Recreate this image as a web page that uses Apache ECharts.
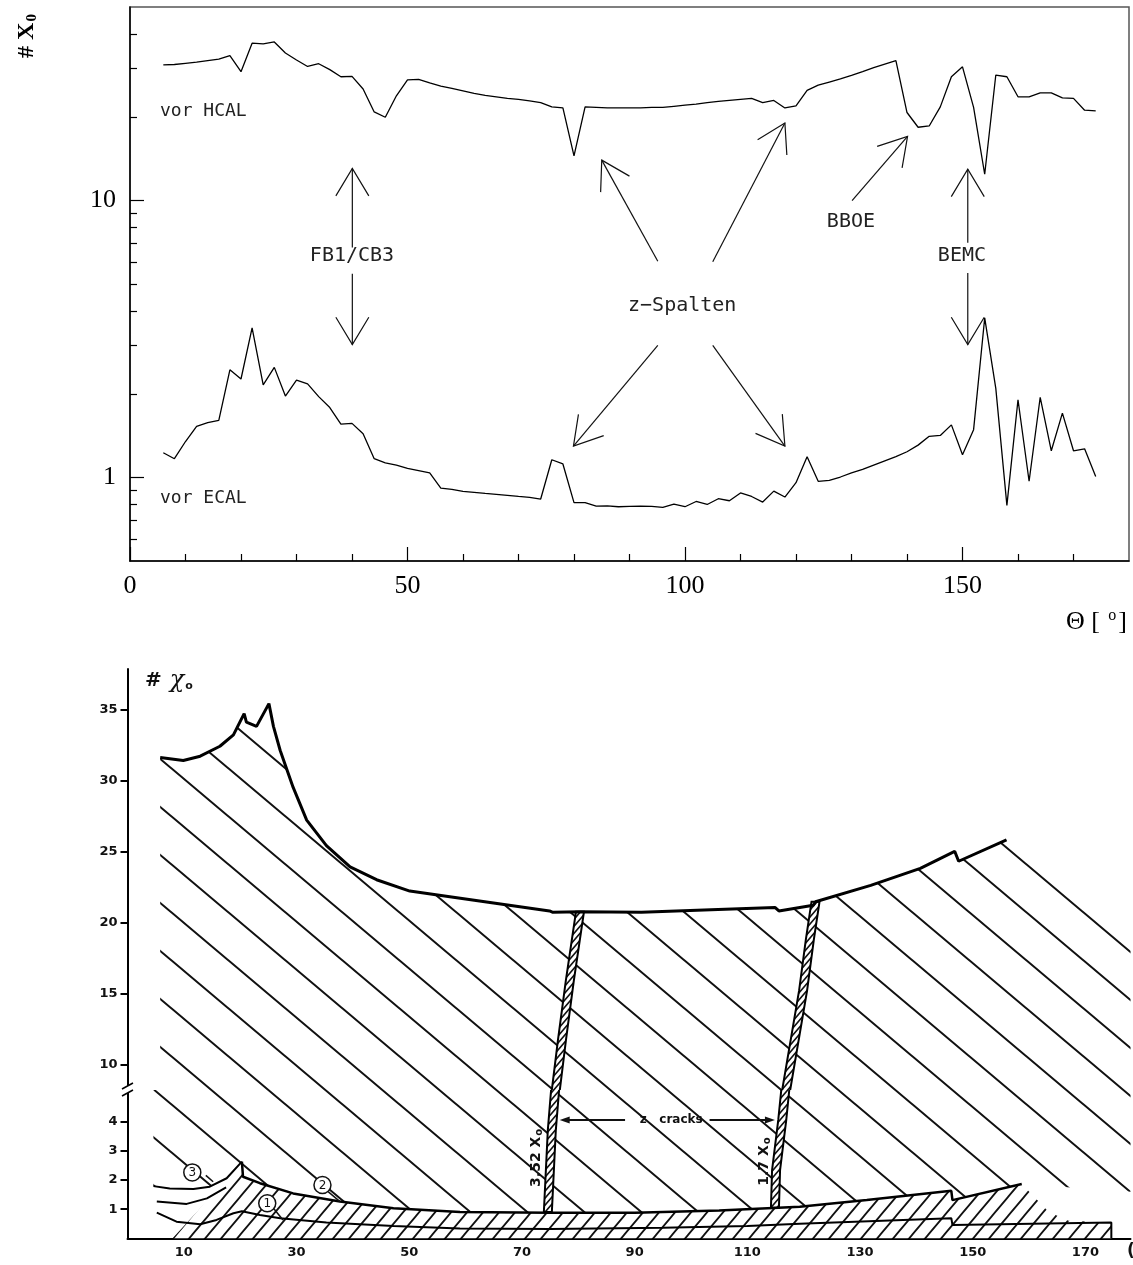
<!DOCTYPE html>
<html>
<head>
<meta charset="utf-8">
<title>Strahlungslaengen vor ECAL / HCAL</title>
<script src="https://cdn.jsdelivr.net/npm/echarts@6.0.0/dist/echarts.min.js"></script>
<style>
  html, body { margin: 0; padding: 0; background: #fff; }
  #main { width: 1133px; height: 1265px; }
</style>
</head>
<body>
<div id="main"></div>
<script>
// ---------- oberes Bild: #X0 vor ECAL / HCAL (log) ----------
const theta = [6, 8, 10, 12, 14, 16, 18, 20, 22, 24, 26, 28, 30, 32, 34, 36, 38, 40, 42, 44,
  46, 48, 50, 52, 54, 56, 58, 60, 62, 64, 66, 68, 70, 72, 74, 76, 78, 80, 82, 84,
  86, 88, 90, 92, 94, 96, 98, 100, 102, 104, 106, 108, 110, 112, 114, 116, 118, 120, 122, 124,
  126, 128, 130, 132, 134, 136, 138, 140, 142, 144, 146, 148, 150, 152, 154, 156, 158, 160, 162, 164,
  166, 168, 170, 172, 174];
const vorHCAL = [30.9, 31.0, 31.3, 31.6, 32.0, 32.4, 33.4, 29.2, 37.0, 36.8, 37.4, 34.1, 32.2, 30.5, 31.2, 29.7, 28.0, 28.1, 25.3, 20.9,
  20.0, 23.9, 27.3, 27.4, 26.6, 25.9, 25.4, 24.9, 24.4, 24.0, 23.7, 23.4, 23.2, 22.9, 22.6, 21.8, 21.6, 14.5, 21.8, 21.7,
  21.6, 21.6, 21.6, 21.6, 21.7, 21.7, 21.9, 22.1, 22.3, 22.6, 22.8, 23.0, 23.2, 23.4, 22.6, 23.0, 21.6, 22.0, 25.0, 26.1,
  26.8, 27.5, 28.3, 29.2, 30.2, 31.1, 32.0, 20.8, 18.4, 18.6, 21.8, 28.0, 30.4, 21.7, 12.45, 28.4, 28.0, 23.7, 23.7, 24.5,
  24.5, 23.5, 23.4, 21.2, 21.1];
const vorECAL = [1.23, 1.17, 1.35, 1.53, 1.58, 1.61, 2.45, 2.27, 3.47, 2.16, 2.50, 1.97, 2.25, 2.18, 1.96, 1.79, 1.56, 1.57, 1.44, 1.17,
  1.13, 1.11, 1.08, 1.06, 1.04, 0.917, 0.907, 0.892, 0.885, 0.877, 0.870, 0.863, 0.855, 0.849, 0.837, 1.16, 1.12, 0.812, 0.812, 0.789,
  0.791, 0.785, 0.787, 0.789, 0.787, 0.781, 0.802, 0.785, 0.820, 0.800, 0.839, 0.825, 0.880, 0.855, 0.816, 0.894, 0.851, 0.959, 1.19, 0.970,
  0.978, 1.005, 1.04, 1.07, 1.11, 1.15, 1.19, 1.24, 1.31, 1.41, 1.42, 1.55, 1.21, 1.49, 3.77, 2.10, 0.794, 1.91, 0.970, 1.95,
  1.25, 1.71, 1.25, 1.27, 1.01];

const thetaMajor = [0, 50, 100, 150];
const thetaMinor = [10, 20, 30, 40, 60, 70, 80, 90, 110, 120, 130, 140, 160, 170];
const x0Major = [1, 10];
const x0Minor = [0.6, 0.7, 0.8, 0.9, 2, 3, 4, 5, 6, 7, 8, 9, 20, 30, 40];

// Beschriftungen im oberen Bild (theta, X0)
const noteText = ['vor HCAL', 'vor ECAL', 'FB1/CB3', 'z\u2212Spalten', 'BBOE', 'BEMC'];
const noteX = [5.4, 5.4, 40.0, 99.5, 129.9, 149.9];
const noteY = [20.97, 0.839, 6.30, 4.17, 8.36, 6.30];

// Pfeile: von (x1,y1) nach Spitze (x2,y2)
const arrowX1 = [40.06, 40.06, 95.1, 105.0, 95.1, 105.0, 130.1, 150.95, 150.95];
const arrowY1 = [6.77, 5.45, 6.04, 6.02, 3.0, 3.0, 10.0, 7.04, 5.48];
const arrowX2 = [40.06, 40.06, 85.0, 118.0, 79.9, 118.0, 140.1, 150.95, 150.95];
const arrowY2 = [13.06, 3.02, 14.0, 19.05, 1.30, 1.30, 17.06, 12.98, 3.02];

// ---------- unteres Bild: Skizze mit gebrochener Achse ----------
const topX = [5.8, 9.9, 12.9, 16.4, 18.8, 20.7, 21.1, 22.9, 25.1, 25.9, 27.1, 29.4, 31.8, 35.3, 39.5, 44.2, 50.1, 57.2, 74.9, 75.5,
  80.3, 91.2, 104.8, 114.9, 115.6, 121.7, 122.1, 131.9, 140.7, 146.8, 147.5, 156.0];
const topV = [31.6, 31.4, 31.7, 32.4, 33.2, 34.7, 34.1, 33.8, 35.4, 33.8, 32.1, 29.5, 27.2, 25.4, 23.9, 23.0, 22.2, 21.8, 20.8, 20.7,
  20.75, 20.7, 20.9, 21.05, 20.8, 21.2, 21.45, 22.6, 23.8, 25.0, 24.3, 25.8];
const hatchEdgeX = [178];
const hatchEdgeV = [20.5];

const curve3X = [4.6, 7.5, 11.7, 14.6, 17.6, 20.3];
const curve3V = [1.79, 1.71, 1.69, 1.77, 2.06, 2.63];
const midLeftX = [5.2, 10.5, 14.1, 17.5];
const midLeftV = [1.26, 1.18, 1.37, 1.75];
const line1X = [5.2, 8.7, 12.9, 15.8, 18.8, 20.3, 23.5, 27.1, 35.3, 47.2, 59, 75, 95, 110, 119.3, 146.2, 146.4, 174.6, 174.6];
const line1V = [0.88, 0.57, 0.48, 0.63, 0.86, 0.93, 0.8, 0.69, 0.54, 0.42, 0.34, 0.32, 0.36, 0.42, 0.5, 0.69, 0.46, 0.54, 0];
const band2X = [8, 20.2, 20.3, 20.5, 23.5, 29.4, 37.7, 47.2, 59, 75, 90, 105, 119.3, 131.2, 146.2, 146.4, 158.7];
const band2V = [0, 2.55, 2.63, 2.11, 1.89, 1.54, 1.26, 1.03, 0.9, 0.88, 0.88, 0.95, 1.08, 1.31, 1.63, 1.31, 1.86];
const bandTailX = [163.5, 167, 174.6, 174.6];
const bandTailV = [0.9, 0.6, 0.54, 0];
const lowEdgeX = [178];
const lowEdgeV = [1.6];

const crack1UpX = [75.8, 77.1, 78.5, 79.8, 80.3];
const crack1UpV = [7.5, 11.7, 15.9, 19.4, 20.75];
const crack1LoX = [74.6, 75.3, 76.1];
const crack1LoV = [0.9, 3.7, 5.6];
const crack2UpX = [116.6, 118.4, 119.9, 121.1, 122.1];
const crack2UpV = [7.5, 11.7, 15.2, 18.8, 21.45];
const crack2LoX = [114.9, 115.1, 116.2, 117.0];
const crack2LoV = [1.05, 2.34, 4.06, 5.6];

const upperTicks = [10, 15, 20, 25, 30, 35];
const lowerTicks = [1, 2, 3, 4];
const bottomXLabels = [10, 30, 50, 70, 90, 110, 130, 150, 170];

const pairs = (xs, ys) => xs.map((x, i) => [x, ys[i]]);

// Schraffur als Kachelmuster
function hatch(w, h, lw, dir, bg) {
  const c = document.createElement('canvas');
  c.width = w; c.height = h;
  const g = c.getContext('2d');
  if (bg) { g.fillStyle = bg; g.fillRect(0, 0, w, h); }
  g.strokeStyle = '#111';
  g.lineWidth = lw;
  g.beginPath();
  for (let k = -1; k <= 1; k++) {
    if (dir === '\\') { g.moveTo(-w, -h + k * h); g.lineTo(2 * w, 2 * h + k * h); }
    else { g.moveTo(-w, 2 * h + k * h); g.lineTo(2 * w, -h + k * h); }
  }
  g.stroke();
  return { image: c, repeat: 'repeat' };
}
const sparseHatch = hatch(57, 48, 2, '\\', null);
const denseHatch = hatch(16, 19, 1.8, '/', '#fff');
const crackHatch = hatch(6, 7, 1.6, '/', '#fff');

function renderArrow(params, api) {
  const p1 = api.coord([api.value(0), api.value(1)]);
  const p2 = api.coord([api.value(2), api.value(3)]);
  const ang = Math.atan2(p1[1] - p2[1], p1[0] - p2[0]);
  const L = 32, a = 31 * Math.PI / 180;
  const w1 = [p2[0] + L * Math.cos(ang + a), p2[1] + L * Math.sin(ang + a)];
  const w2 = [p2[0] + L * Math.cos(ang - a), p2[1] + L * Math.sin(ang - a)];
  return {
    type: 'group', children: [
      { type: 'line', shape: { x1: p1[0], y1: p1[1], x2: p2[0], y2: p2[1] }, style: { stroke: '#111', lineWidth: 1.2 } },
      { type: 'polyline', shape: { points: [w1, p2, w2] }, style: { stroke: '#111', lineWidth: 1.2, fill: null } }
    ]
  };
}

function renderNote(params, api) {
  const p = api.coord([api.value(0), api.value(1)]);
  const i = params.dataIndex;
  const small = i < 2;
  return {
    type: 'text', x: p[0], y: p[1],
    style: {
      text: noteText[i], fill: '#222',
      font: (small ? 18 : 20) + 'px "DejaVu Sans Mono"',
      align: small ? 'left' : 'center', verticalAlign: 'middle'
    }
  };
}

function crackRenderer(sets) {
  return function (params, api) {
    const s = sets[params.dataIndex];
    const pts = s[0].map((x, i) => api.coord([x, s[1][i]]));
    const left = pts.map(p => [p[0] - 4, p[1]]);
    const right = pts.map(p => [p[0] + 4, p[1]]).reverse();
    return {
      type: 'polygon', shape: { points: left.concat(right) },
      style: { fill: crackHatch, stroke: '#000', lineWidth: 2 }
    };
  };
}

function renderCrackArrow(params, api) {
  const p1 = api.coord([api.value(0), api.value(1)]);
  const p2 = api.coord([api.value(2), api.value(3)]);
  const d = p2[0] > p1[0] ? 1 : -1;
  return {
    type: 'group', children: [
      { type: 'line', shape: { x1: p1[0], y1: p1[1], x2: p2[0] - d * 6, y2: p2[1] }, style: { stroke: '#111', lineWidth: 2 } },
      { type: 'polygon', shape: { points: [[p2[0], p2[1]], [p2[0] - d * 10, p2[1] - 3.5], [p2[0] - d * 10, p2[1] + 3.5]] }, style: { fill: '#111' } }
    ]
  };
}

const crackLabels = ['3.52 X', '1.7 X'];
function renderCrackLabel(params, api) {
  const p = api.coord([api.value(0), api.value(1)]);
  return {
    type: 'text', x: p[0], y: p[1], rotation: Math.PI / 2,
    style: {
      text: '{a|' + crackLabels[params.dataIndex] + '}{b|o}',
      align: 'center', verticalAlign: 'middle',
      rich: {
        a: { font: 'bold 14px "DejaVu Sans"', fill: '#111' },
        b: { font: 'bold 10px "DejaVu Sans"', fill: '#111', padding: [6, 0, 0, 1] }
      }
    }
  };
}

const circleDigits = ['3', '2', '1'];
function renderCircle(params, api) {
  const c = api.coord([api.value(0), api.value(1)]);
  const a = api.coord([api.value(2), api.value(3)]);
  const b = api.coord([api.value(4), api.value(5)]);
  return {
    type: 'group', children: [
      { type: 'line', shape: { x1: a[0], y1: a[1], x2: b[0], y2: b[1] }, style: { stroke: '#111', lineWidth: 1.5 } },
      { type: 'circle', shape: { cx: c[0], cy: c[1], r: 8.5 }, style: { fill: '#fff', stroke: '#111', lineWidth: 1.5 } },
      { type: 'text', x: c[0], y: c[1] + 0.5, style: { text: circleDigits[params.dataIndex], font: '12px "DejaVu Sans"', fill: '#111', align: 'center', verticalAlign: 'middle' } }
    ]
  };
}

const chart = echarts.init(document.getElementById('main'));
const noAxis = { axisLine: { show: false }, axisTick: { show: false }, axisLabel: { show: false }, splitLine: { show: false } };
const blackLine = { lineStyle: { color: '#000', width: 1.5 }, onZero: false };

chart.setOption({
  animation: false,
  backgroundColor: '#fff',
  grid: [
    { left: 130, top: 7, width: 999, height: 554, show: true, borderColor: '#555', borderWidth: 1.5 },
    { left: 127.5, top: 669, width: 1003, height: 421 },
    { left: 127.5, top: 1090, width: 1003, height: 148.3 }
  ],
  xAxis: [
    {
      gridIndex: 0, type: 'value', position: 'bottom', min: 0, max: 180,
      axisLine: blackLine,
      axisTick: { inside: true, length: 14, customValues: thetaMajor, lineStyle: { color: '#000', width: 1.2 } },
      axisLabel: { customValues: thetaMajor, fontFamily: 'Liberation Serif', fontSize: 26, color: '#000', margin: 12 },
      splitLine: { show: false }
    },
    {
      gridIndex: 0, type: 'value', position: 'bottom', min: 0, max: 180,
      axisLine: { show: false },
      axisTick: { inside: true, length: 7, customValues: thetaMinor, lineStyle: { color: '#000', width: 1.2 } },
      axisLabel: { show: false }, splitLine: { show: false }
    },
    Object.assign({ gridIndex: 1, type: 'value', position: 'bottom', min: 0, max: 178 }, noAxis),
    {
      gridIndex: 2, type: 'value', position: 'bottom', min: 0, max: 178,
      axisLine: { lineStyle: { color: '#000', width: 2 }, onZero: false },
      axisTick: { show: false },
      axisLabel: { customValues: bottomXLabels, fontFamily: 'DejaVu Sans', fontWeight: 'bold', fontSize: 13, color: '#111', margin: 8 },
      splitLine: { show: false }
    }
  ],
  yAxis: [
    {
      gridIndex: 0, type: 'log', position: 'left', min: 0.5, max: 50,
      axisLine: blackLine,
      axisTick: { inside: true, length: 14, customValues: x0Major, lineStyle: { color: '#000', width: 1.2 } },
      axisLabel: { customValues: x0Major, fontFamily: 'Liberation Serif', fontSize: 26, color: '#000', margin: 14 },
      splitLine: { show: false }
    },
    {
      gridIndex: 0, type: 'log', position: 'left', min: 0.5, max: 50,
      axisLine: { show: false },
      axisTick: { inside: true, length: 7, customValues: x0Minor, lineStyle: { color: '#000', width: 1.2 } },
      axisLabel: { show: false }, splitLine: { show: false }
    },
    {
      gridIndex: 1, type: 'value', position: 'left', min: 8.19, max: 37.84,
      axisLine: { lineStyle: { color: '#000', width: 2 }, onZero: false },
      axisTick: { length: 7, customValues: upperTicks, lineStyle: { color: '#000', width: 2 } },
      axisLabel: { customValues: upperTicks, fontFamily: 'DejaVu Sans', fontWeight: 'bold', fontSize: 13, color: '#111', margin: 10 },
      splitLine: { show: false }
    },
    {
      gridIndex: 2, type: 'value', position: 'left', min: 0, max: 5.087,
      axisLine: { lineStyle: { color: '#000', width: 2 }, onZero: false },
      axisTick: { length: 7, customValues: lowerTicks, lineStyle: { color: '#000', width: 2 } },
      axisLabel: { customValues: lowerTicks, fontFamily: 'DejaVu Sans', fontWeight: 'bold', fontSize: 13, color: '#111', margin: 10 },
      splitLine: { show: false }
    }
  ],
  series: [
    // oberes Bild
    { name: 'vor HCAL', type: 'line', xAxisIndex: 0, yAxisIndex: 0, data: pairs(theta, vorHCAL), symbol: 'none', lineStyle: { color: '#000', width: 1.3 } },
    { name: 'vor ECAL', type: 'line', xAxisIndex: 0, yAxisIndex: 0, data: pairs(theta, vorECAL), symbol: 'none', lineStyle: { color: '#000', width: 1.3 } },
    {
      type: 'custom', xAxisIndex: 0, yAxisIndex: 0, renderItem: renderArrow,
      encode: { x: [0, 2], y: [1, 3] },
      data: arrowX1.map((x, i) => [x, arrowY1[i], arrowX2[i], arrowY2[i]])
    },
    { type: 'custom', xAxisIndex: 0, yAxisIndex: 0, renderItem: renderNote, data: pairs(noteX, noteY) },

    // unteres Bild, oberer Teil
    {
      type: 'line', xAxisIndex: 2, yAxisIndex: 2, z: 1, symbol: 'none',
      data: pairs(topX.concat(hatchEdgeX), topV.concat(hatchEdgeV)),
      lineStyle: { opacity: 0 }, areaStyle: { color: sparseHatch, origin: 'start', opacity: 1 }
    },
    {
      type: 'custom', xAxisIndex: 2, yAxisIndex: 2, z: 3, clip: true,
      renderItem: crackRenderer([[crack1UpX, crack1UpV], [crack2UpX, crack2UpV]]),
      data: [[crack1UpX[2], crack1UpV[2]], [crack2UpX[2], crack2UpV[2]]]
    },
    { type: 'line', xAxisIndex: 2, yAxisIndex: 2, z: 4, symbol: 'none', data: pairs(topX, topV), lineStyle: { color: '#000', width: 3 } },

    // unteres Bild, unterer Teil
    {
      type: 'line', xAxisIndex: 3, yAxisIndex: 3, z: 1, symbol: 'none',
      data: pairs(curve3X.concat(band2X.slice(3), lowEdgeX), curve3V.concat(band2V.slice(3), lowEdgeV)),
      lineStyle: { opacity: 0 }, areaStyle: { color: sparseHatch, origin: 'end', opacity: 1 }
    },
    {
      type: 'line', xAxisIndex: 3, yAxisIndex: 3, z: 2, symbol: 'none',
      data: pairs(band2X.concat(bandTailX), band2V.concat(bandTailV)),
      lineStyle: { opacity: 0 }, areaStyle: { color: denseHatch, origin: 'start', opacity: 1 }
    },
    {
      type: 'custom', xAxisIndex: 3, yAxisIndex: 3, z: 3, clip: true,
      renderItem: crackRenderer([[crack1LoX, crack1LoV], [crack2LoX, crack2LoV]]),
      data: [[crack1LoX[1], crack1LoV[1]], [crack2LoX[1], crack2LoV[1]]]
    },
    { type: 'line', xAxisIndex: 3, yAxisIndex: 3, z: 4, symbol: 'none', data: pairs(band2X.slice(2), band2V.slice(2)), lineStyle: { color: '#000', width: 2.5 } },
    { type: 'line', xAxisIndex: 3, yAxisIndex: 3, z: 4, symbol: 'none', data: pairs(curve3X, curve3V), lineStyle: { color: '#000', width: 2 } },
    { type: 'line', xAxisIndex: 3, yAxisIndex: 3, z: 4, symbol: 'none', data: pairs(midLeftX, midLeftV), lineStyle: { color: '#000', width: 2 } },
    { type: 'line', xAxisIndex: 3, yAxisIndex: 3, z: 4, symbol: 'none', data: pairs(line1X, line1V), lineStyle: { color: '#000', width: 2 } },
    {
      type: 'custom', xAxisIndex: 3, yAxisIndex: 3, z: 5, renderItem: renderCrackArrow,
      encode: { x: [0, 2], y: [1, 3] },
      data: [[88.3, 4.06, 76.7, 4.06], [103.3, 4.06, 114.9, 4.06]]
    },
    {
      type: 'custom', xAxisIndex: 3, yAxisIndex: 3, z: 5,
      renderItem: (params, api) => {
        const p = api.coord([api.value(0), api.value(1)]);
        return { type: 'text', x: p[0], y: p[1], style: { text: 'z   cracks', font: 'bold 12px "DejaVu Sans"', fill: '#111', align: 'center', verticalAlign: 'middle' } };
      },
      data: [[96.5, 4.06]]
    },
    { type: 'custom', xAxisIndex: 3, yAxisIndex: 3, z: 5, renderItem: renderCrackLabel, data: [[72.6, 2.76], [113.1, 2.63]] },
    {
      type: 'custom', xAxisIndex: 3, yAxisIndex: 3, z: 6, renderItem: renderCircle,
      encode: { x: [0, 2, 4], y: [1, 3, 5] },
      data: [[11.5, 2.26, 13.9, 2.16, 15.2, 1.94], [34.6, 1.83, 35.6, 1.6, 37.7, 1.26], [24.8, 1.2, 25.9, 1.03, 27.6, 0.63]]
    }
  ],
  graphic: [
    {
      type: 'text', x: 27, y: 36, rotation: Math.PI / 2,
      style: {
        text: '{a|# X}{b|0}', align: 'center', verticalAlign: 'middle',
        rich: {
          a: { font: 'bold 24px "Liberation Serif"', fill: '#000' },
          b: { font: 'bold 15px "Liberation Serif"', fill: '#000', padding: [10, 0, 0, 1] }
        }
      }
    },
    {
      type: 'text', x: 1127, y: 622,
      style: {
        text: '{a|\u0398 [ }{b|o}{a|]}', align: 'right', verticalAlign: 'middle',
        rich: {
          a: { font: '26px "Liberation Serif"', fill: '#000' },
          b: { font: '16px "Liberation Serif"', fill: '#000', padding: [0, 2, 12, 2] }
        }
      }
    },
    {
      type: 'text', x: 145, y: 681,
      style: {
        text: '{a|#}{c|\u03c7}{b|o}', verticalAlign: 'middle',
        rich: {
          a: { font: 'bold 20px "DejaVu Sans"', fill: '#111', padding: [0, 8, 0, 0] },
          c: { font: 'italic 24px "DejaVu Serif"', fill: '#111' },
          b: { font: 'bold 11px "DejaVu Sans"', fill: '#111', padding: [10, 0, 0, 1] }
        }
      }
    },
    { type: 'rect', shape: { x: 124, y: 1086, width: 8, height: 7 }, style: { fill: '#fff' }, z: 100 },
    { type: 'line', shape: { x1: 122, y1: 1089, x2: 133, y2: 1083 }, style: { stroke: '#000', lineWidth: 1.5 }, z: 101 },
    { type: 'line', shape: { x1: 122, y1: 1096, x2: 133, y2: 1090 }, style: { stroke: '#000', lineWidth: 1.5 }, z: 101 },
    { type: 'text', x: 1127, y: 1252, style: { text: '(', font: 'bold 17px "DejaVu Sans"', fill: '#111', verticalAlign: 'middle' } }
  ]
});
</script>
</body>
</html>
